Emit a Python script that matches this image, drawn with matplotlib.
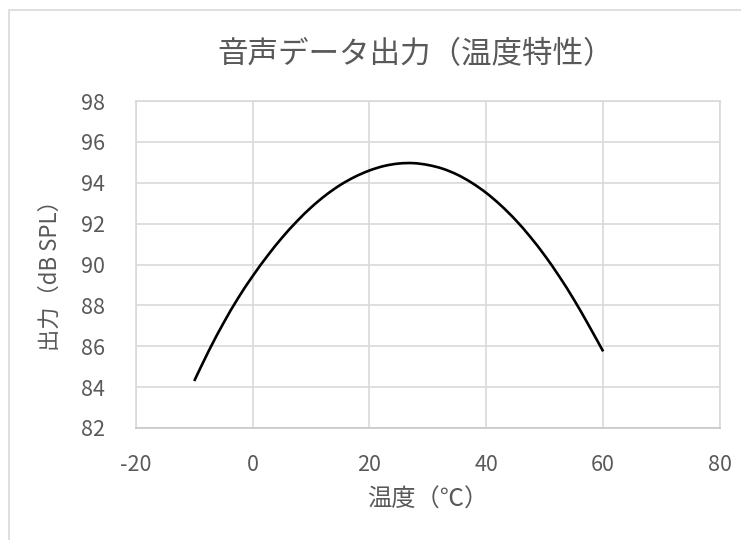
import matplotlib.pyplot as plt
from matplotlib.patches import Rectangle, PathPatch
from matplotlib.path import Path

# 温度特性データ
temp = [-10, -7.5, -5, -2.5, 0, 2.5, 5, 7.5, 10, 12.5, 15, 17.5, 20, 22.5, 25,
        27.5, 30, 32.5, 35, 37.5, 40, 42.5, 45, 47.5, 50, 52.5, 55, 57.5, 60]
spl = [84.3, 85.78, 87.13, 88.35, 89.43, 90.41, 91.3, 92.09, 92.79, 93.39, 93.89, 94.29, 94.6, 94.82, 94.94,
       94.96, 94.87, 94.69, 94.4, 94.0, 93.5, 92.89, 92.18, 91.36, 90.44, 89.41, 88.28, 87.04, 85.75]
xticks = [-20, 0, 20, 40, 60, 80]
yticks = [82, 84, 86, 88, 90, 92, 94, 96, 98]

plt.rcParams['font.family'] = ['Noto Sans CJK JP', 'DejaVu Sans']
plt.rcParams['axes.unicode_minus'] = False
grey = '#595959'
gridc = '#d9d9d9'

fig = plt.figure(figsize=(7.41, 5.40), dpi=100)
# グラフエリアの枠
fig.patches.append(Rectangle((9 / 741, -0.1), 1.2, 1 - 10 / 540 + 0.1, transform=fig.transFigure,
                             fill=False, edgecolor=gridc, linewidth=1.2))

ax = fig.add_axes([135.8 / 741, 1 - 428 / 540, (720 - 135.8) / 741, (428 - 101) / 540])

# Excelの「平滑線」のようにベジェ曲線でつなぐ
pts = list(zip(temp, spl))
verts = [pts[0]]
codes = [Path.MOVETO]
for i in range(len(pts) - 1):
    p0 = pts[max(i - 1, 0)]
    p1 = pts[i]
    p2 = pts[i + 1]
    p3 = pts[min(i + 2, len(pts) - 1)]
    c1 = (p1[0] + (p2[0] - p0[0]) / 6, p1[1] + (p2[1] - p0[1]) / 6)
    c2 = (p2[0] - (p3[0] - p1[0]) / 6, p2[1] - (p3[1] - p1[1]) / 6)
    verts += [c1, c2, p2]
    codes += [Path.CURVE4] * 3
ax.add_patch(PathPatch(Path(verts, codes), fill=False, edgecolor='black', linewidth=1.9,
                       capstyle='butt'))

ax.set_xlim(-20, 80)
ax.set_ylim(82, 98)
ax.set_xticks(xticks)
ax.set_yticks(yticks)
ax.grid(True, color=gridc, linewidth=1.2)
ax.set_axisbelow(True)
for s in ax.spines.values():
    s.set_color(gridc)
    s.set_linewidth(1.2)
ax.spines['bottom'].set_color('#c8c8c8')
ax.tick_params(length=0, labelsize=15.5, colors=grey)
ax.tick_params(axis='x', pad=19)
ax.tick_params(axis='y', pad=22)

fig.text(416 / 741, 1 - 55 / 540, '音声データ出力（温度特性）', ha='center', va='center',
         fontsize=22, color=grey)
fig.text(50 / 741, 1 - 270 / 540, '出力（dB SPL）', ha='center', va='center', rotation=90,
         fontsize=16, color=grey)
fig.text(428 / 741, 1 - 500 / 540, '温度（℃）', ha='center', va='center',
         fontsize=17.5, color=grey)

plt.savefig('out.png', dpi=100)
